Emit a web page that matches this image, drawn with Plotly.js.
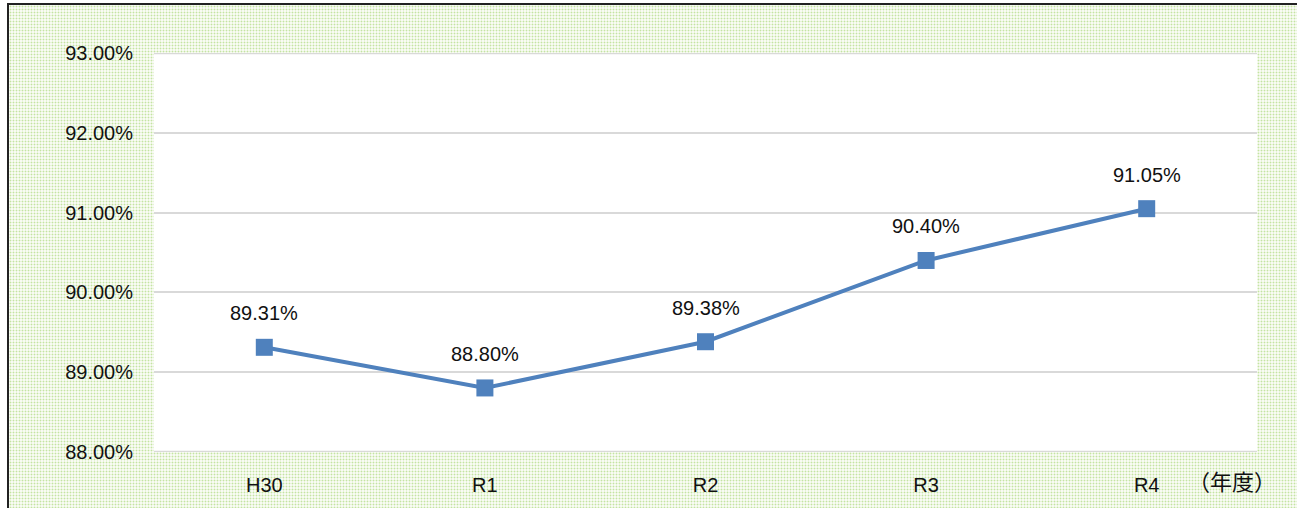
<!DOCTYPE html>
<html><head><meta charset="utf-8">
<script src="https://cdn.plot.ly/plotly-3.0.1.min.js"></script>
<style>
html,body{margin:0;padding:0;background:#fff;}
#wrap{position:absolute;left:0;top:0;width:1297px;height:508px;overflow:hidden;}
#bg{position:absolute;left:7px;top:3px;right:0;bottom:0;border-left:2px solid #222;border-top:2px solid #222;
background-color:#f8fbf3;
background-image:radial-gradient(circle, #c4e4a2 0.8px, transparent 1.1px);
background-size:3px 3px;}
#chart{position:absolute;left:0;top:0;width:1297px;height:508px;}
</style></head>
<body><div id="wrap"><div id="bg"></div><div id="chart"></div></div>
<script>
const categories = ["H30","R1","R2","R3","R4"];
const values = [89.31, 88.80, 89.38, 90.40, 91.05];
const labels = ["89.31%","88.80%","89.38%","90.40%","91.05%"];
const yTicks = [88,89,90,91,92,93];
const yTickText = ["88.00%","89.00%","90.00%","91.00%","92.00%","93.00%"];
const unitLabel = "（年度）";
const font = "'Liberation Sans', Arial, sans-serif";
const cjkFont = "'Noto Sans CJK JP', sans-serif";

const ann = categories.map((c,i)=>({x:c, y:values[i], xref:'x', yref:'y', text:labels[i], showarrow:false,
  yshift:34, xanchor:'center', yanchor:'middle', font:{family:font,size:20,color:'#111'}}));
ann.push({xref:'paper', yref:'paper', x:0.977, y:0, yshift:-28, xanchor:'center', yanchor:'middle',
    text:unitLabel, showarrow:false, font:{family:cjkFont,size:22,color:'#111'}});

const edgeLines = [yTicks[0], yTicks[yTicks.length-1]].map(v=>({type:'line', xref:'paper', yref:'y',
  x0:0, x1:1, y0:v, y1:v, line:{color:'#d9d9d9', width:2}, layer:'below'}));

Plotly.newPlot('chart', [{
  x: categories, y: values, type:'scatter', mode:'lines+markers',
  line:{color:'#4f81bd', width:4},
  marker:{symbol:'square', size:17, color:'#4f81bd'},
  cliponaxis:false, hoverinfo:'skip'
}], {
  width:1297, height:508,
  margin:{l:154, r:40, t:53, b:56},
  paper_bgcolor:'rgba(0,0,0,0)', plot_bgcolor:'#fff',
  showlegend:false,
  font:{family:font, size:20, color:'#111'},
  xaxis:{type:'category', range:[-0.5,4.5], showgrid:false, zeroline:false, showline:false,
    ticks:'', ticklabelstandoff:19, tickfont:{family:font,size:20,color:'#111'}},
  yaxis:{range:[87.996,93.004], tickvals:yTicks, ticktext:yTickText, showgrid:true, gridcolor:'#d9d9d9', gridwidth:2,
    zeroline:false, showline:false, ticks:'', ticklabelstandoff:20, tickfont:{family:font,size:20,color:'#111'}},
  shapes:edgeLines,
  annotations:ann
}, {displayModeBar:false, staticPlot:true});
</script></body></html>
